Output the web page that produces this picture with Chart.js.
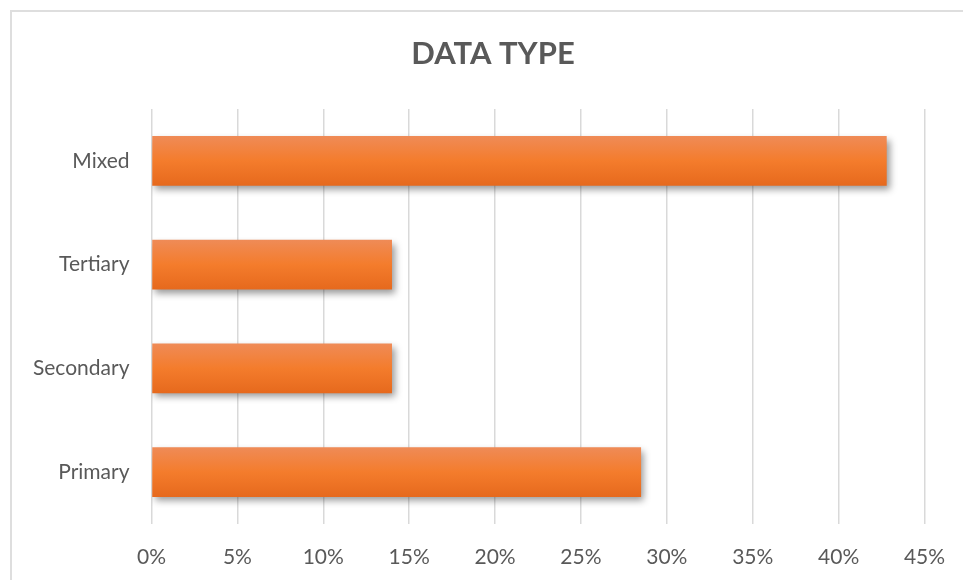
<!DOCTYPE html>
<html>
<head>
<meta charset="utf-8">
<script src="https://cdn.jsdelivr.net/npm/chart.js@4"></script>
<style>
  body { margin: 0; background: #fff; overflow: hidden; }
  #moldura { position: absolute; left: 10px; top: 10px; width: 2000px; height: 2000px;
             border-left: 2px solid #dedede; border-top: 2px solid #dedede; }
  #caixa { position: absolute; left: 0; top: 0; width: 963px; height: 580px; }
</style>
</head>
<body>
<div id="moldura"></div>
<div id="caixa"><canvas id="myChart" width="963" height="580"></canvas></div>
<script>
//dados do grafico
const titulo = 'DATA TYPE';
const categorias = ['Mixed', 'Tertiary', 'Secondary', 'Primary'];
const valores = [42.8, 14, 14, 28.5];
const ticksX = [0, 5, 10, 15, 20, 25, 30, 35, 40, 45];

const cinza = '#595959';

//gradiente laranja de cada barra (claro em cima, escuro embaixo)
function gradiente(ctx) {
  const chart = ctx.chart;
  const y = chart.scales.y;
  if (!y || y.top === undefined || ctx.dataIndex === undefined) return '#f37b2c';
  const centro = y.getPixelForValue(ctx.dataIndex);
  const meia = (y.height / categorias.length) * 0.48 / 2;
  const g = chart.ctx.createLinearGradient(0, centro - meia, 0, centro + meia);
  g.addColorStop(0, '#ef8b57');
  g.addColorStop(0.5, '#f47c2c');
  g.addColorStop(1, '#e6691d');
  return g;
}

//sombra das barras
const sombra = {
  id: 'sombra',
  beforeDatasetDraw(chart) {
    const c = chart.ctx;
    c.save();
    c.shadowColor = 'rgba(0,0,0,0.4)';
    c.shadowBlur = 7;
    c.shadowOffsetX = 3;
    c.shadowOffsetY = 4;
  },
  afterDatasetDraw(chart) {
    chart.ctx.restore();
  }
};

//titulo centrado na moldura (e nao so na area do grafico)
const tituloMoldura = {
  id: 'tituloMoldura',
  afterDraw(chart) {
    const c = chart.ctx;
    c.save();
    c.font = 'bold 31px Lato';
    c.fillStyle = cinza;
    c.textAlign = 'center';
    c.textBaseline = 'middle';
    c.fillText(titulo, 493, 54);
    c.restore();
  }
};

const data = {
  labels: categorias,
  datasets: [{
    data: valores,
    backgroundColor: gradiente,
    borderWidth: 0,
    barPercentage: 0.48,
    categoryPercentage: 1
  }]
};

const config = {
  type: 'bar',
  data: data,
  plugins: [sombra, tituloMoldura],
  options: {
    indexAxis: 'y',
    responsive: false,
    animation: false,
    layout: { padding: { left: 0, right: 38.5, top: 109, bottom: 0 } },
    plugins: {
      legend: { display: false },
      tooltip: { enabled: false },
      title: { display: false }
    },
    scales: {
      x: {
        min: 0,
        max: 45,
        afterBuildTicks: function (scale) {
          scale.ticks = ticksX.map(v => ({ value: v }));
        },
        afterFit: function (scale) {
          scale.height = 56;
          scale.paddingLeft = 0;
          scale.paddingRight = 0;
        },
        border: { display: false },
        grid: { color: '#d9d9d9', lineWidth: 1.5, drawTicks: false },
        ticks: {
          color: cinza,
          font: { family: 'Lato', size: 21 },
          padding: 21,
          callback: v => v + '%'
        }
      },
      y: {
        afterFit: function (scale) { scale.width = 151.5; },
        border: { display: false },
        grid: { display: false },
        ticks: {
          color: cinza,
          font: { family: 'Lato', size: 21 },
          padding: 14
        }
      }
    }
  }
};

const myChart = new Chart(
  document.getElementById('myChart'),
  config
);
</script>
</body>
</html>
